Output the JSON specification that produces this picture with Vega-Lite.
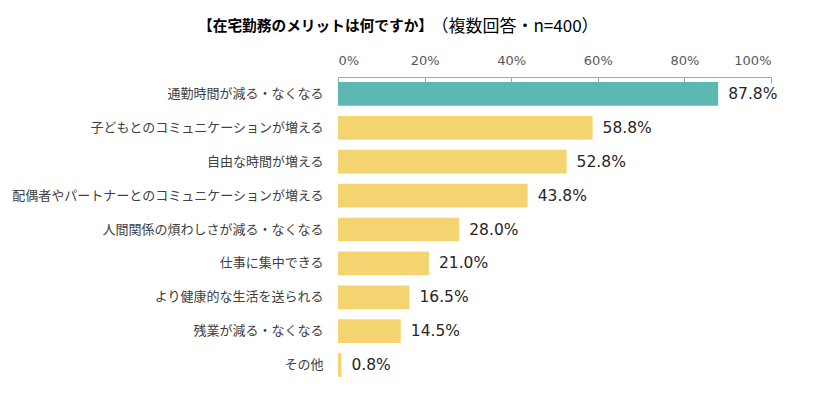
{
  "$schema": "https://vega.github.io/schema/vega-lite/v6.json",
  "autosize": "none",
  "width": 433,
  "height": 305,
  "padding": {"left": 338, "top": 77, "right": 42, "bottom": 16},
  "background": "white",
  "title": {
    "text": "【在宅勤務のメリットは何ですか】",
    "anchor": "start",
    "frame": "group",
    "dx": -140,
    "offset": -17,
    "font": "Noto Sans CJK JP",
    "fontSize": 14.7,
    "fontWeight": "bold",
    "color": "#000000"
  },
  "data": {
    "values": [
      {"item": "通勤時間が減る・なくなる", "value": 0.878},
      {"item": "子どもとのコミュニケーションが増える", "value": 0.588},
      {"item": "自由な時間が増える", "value": 0.528},
      {"item": "配偶者やパートナーとのコミュニケーションが増える", "value": 0.438},
      {"item": "人間関係の煩わしさが減る・なくなる", "value": 0.28},
      {"item": "仕事に集中できる", "value": 0.21},
      {"item": "より健康的な生活を送られる", "value": 0.165},
      {"item": "残業が減る・なくなる", "value": 0.145},
      {"item": "その他", "value": 0.008}
    ]
  },
  "encoding": {
    "y": {
      "field": "item",
      "type": "nominal",
      "sort": null,
      "scale": {"paddingInner": 0.3, "paddingOuter": 0.15},
      "axis": {
        "title": null,
        "domain": false,
        "ticks": false,
        "labelPadding": 15,
        "labelFont": "Noto Sans CJK JP",
        "labelFontSize": 13,
        "labelColor": "#404040",
        "labelLimit": 400
      }
    },
    "x": {
      "field": "value",
      "type": "quantitative",
      "scale": {"domain": [0, 1]},
      "axis": {
        "orient": "top",
        "format": "%",
        "values": [0, 0.2, 0.4, 0.6, 0.8, 1],
        "grid": false,
        "domainColor": "#A6A6A6",
        "tickColor": "#A6A6A6",
        "tickSize": -6,
        "labelPadding": 16,
        "labelFont": "DejaVu Sans",
        "labelFontSize": 13,
        "labelColor": "#595959",
        "title": "（複数回答・n=400）",
        "titleFont": "Noto Sans CJK JP",
        "titleFontSize": 17,
        "titleFontWeight": "normal",
        "titleColor": "#000000",
        "titleX": 93,
        "titleY": -51,
        "titleAlign": "left",
        "titleBaseline": "middle",
        "titleAnchor": null
      }
    }
  },
  "layer": [
    {
      "mark": {"type": "bar"},
      "encoding": {
        "color": {
          "condition": {"test": "datum.item === '通勤時間が減る・なくなる'", "value": "#5DB8B2"},
          "value": "#F4D470"
        }
      }
    },
    {
      "mark": {
        "type": "text",
        "align": "left",
        "baseline": "middle",
        "dx": 10,
        "font": "DejaVu Sans",
        "fontSize": 15.5,
        "color": "#262626"
      },
      "encoding": {
        "text": {"field": "value", "type": "quantitative", "format": ".1%"}
      }
    }
  ],
  "config": {"view": {"stroke": null}}
}
